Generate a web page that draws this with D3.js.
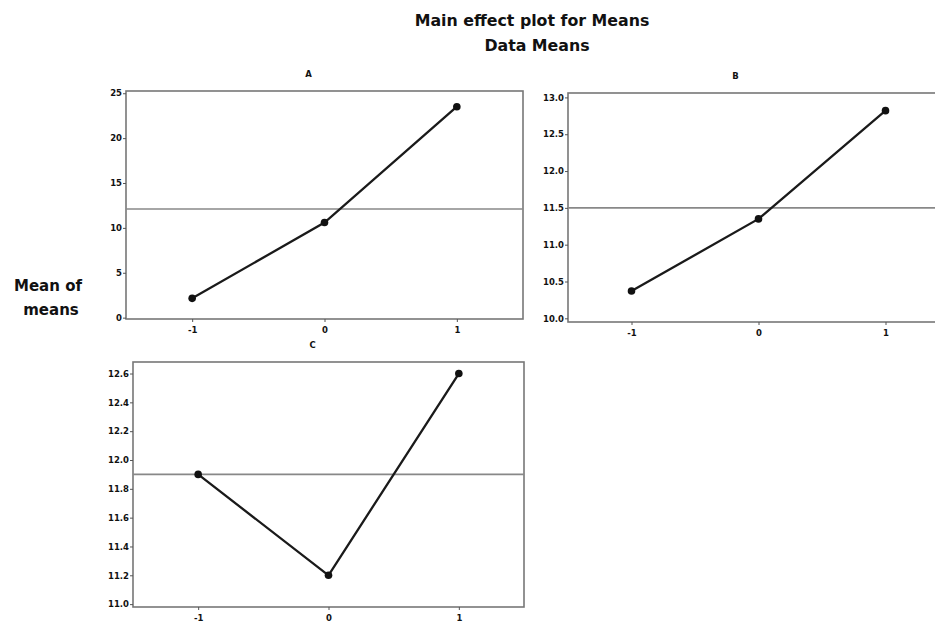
<!DOCTYPE html>
<html>
<head>
<meta charset="utf-8">
<script src="https://cdn.jsdelivr.net/npm/d3@7"></script>
<style>
  body { margin: 0; background: #fff; }
  svg { display: block; }
  text { font-family: "DejaVu Sans", "Open Sans", sans-serif; font-weight: bold; fill: #111; }
  .tick text { font-size: 8.5px; }
  .tick line { stroke: #555; }
</style>
</head>
<body>
<svg id="chart" width="935" height="623"></svg>
<script>
// levels of every factor
const levels = [-1, 0, 1];

// means at each level
const meansA = [2.15, 10.6, 23.5];
const meansB = [10.37, 11.35, 12.82];
const meansC = [11.9, 11.2, 12.6];

// grand mean (horizontal reference line) per panel
const grandA = 12.1;
const grandB = 11.5;
const grandC = 11.9;

// y tick values
const ticksA = [0, 5, 10, 15, 20, 25];
const ticksB = [10.0, 10.5, 11.0, 11.5, 12.0, 12.5, 13.0];
const ticksC = [11.0, 11.2, 11.4, 11.6, 11.8, 12.0, 12.2, 12.4, 12.6];

const hyphen = f => d => f(d).replace("\u2212", "-");

const panels = [
  { name: "A", values: meansA, mean: grandA, ticks: ticksA, fmt: d3.format("d"),
    yDomain: [-0.15, 25.25], box: { left: 126, right: 523, top: 91, bottom: 319 } },
  { name: "B", values: meansB, mean: grandB, ticks: ticksB, fmt: d3.format(".1f"),
    yDomain: [9.95, 13.06], box: { left: 568, right: 949, top: 93, bottom: 322 } },
  { name: "C", values: meansC, mean: grandC, ticks: ticksC, fmt: d3.format(".1f"),
    yDomain: [10.98, 12.68], box: { left: 133, right: 524, top: 362, bottom: 607 } }
];

const svg = d3.select("#chart");

svg.append("text")
  .attr("x", 532).attr("y", 26)
  .attr("text-anchor", "middle")
  .style("font-size", "15.8px")
  .text("Main effect plot for Means");
svg.append("text")
  .attr("x", 537).attr("y", 51)
  .attr("text-anchor", "middle")
  .style("font-size", "15.8px")
  .text("Data Means");

svg.append("text")
  .attr("x", 48).attr("y", 291)
  .attr("text-anchor", "middle")
  .style("font-size", "15px")
  .text("Mean of");
svg.append("text")
  .attr("x", 51).attr("y", 315)
  .attr("text-anchor", "middle")
  .style("font-size", "15px")
  .text("means");

panels.forEach(p => {
  const { left, right, top, bottom } = p.box;
  const x = d3.scaleLinear().domain([-1.5, 1.5]).range([left, right]);
  const y = d3.scaleLinear().domain(p.yDomain).range([bottom, top]);
  const g = svg.append("g");

  // frame
  g.append("rect")
    .attr("x", left).attr("y", top)
    .attr("width", right - left).attr("height", bottom - top)
    .attr("fill", "none")
    .attr("stroke", "#777")
    .attr("stroke-width", 1.6);

  g.append("g")
    .attr("transform", `translate(${left},0)`)
    .call(d3.axisLeft(y).tickValues(p.ticks).tickFormat(p.fmt).tickSize(3).tickPadding(1))
    .call(s => s.select(".domain").remove())
    .call(s => s.selectAll(".tick text").style("font-family", null));

  g.append("g")
    .attr("transform", `translate(0,${bottom})`)
    .call(d3.axisBottom(x).tickValues(levels).tickFormat(hyphen(d3.format("d"))).tickSize(3).tickPadding(5))
    .call(s => s.select(".domain").remove())
    .call(s => s.selectAll(".tick text").style("font-family", null));

  // panel title
  g.append("text")
    .attr("x", (left + Math.min(right, 935)) / 2 - 16)
    .attr("y", top - 14)
    .attr("text-anchor", "middle")
    .style("font-size", "8.5px")
    .text(p.name);

  // grand mean
  g.append("line")
    .attr("x1", left).attr("x2", right)
    .attr("y1", y(p.mean)).attr("y2", y(p.mean))
    .attr("stroke", "#888")
    .attr("stroke-width", 1.6);

  g.append("path")
    .datum(p.values)
    .attr("fill", "none")
    .attr("stroke", "#1a1a1a")
    .attr("stroke-width", 2.3)
    .attr("d", d3.line().x((d, i) => x(levels[i])).y(d => y(d)));

  g.selectAll("circle")
    .data(p.values)
    .join("circle")
    .attr("cx", (d, i) => x(levels[i]))
    .attr("cy", d => y(d))
    .attr("r", 3.8)
    .attr("fill", "#111");
});
</script>
</body>
</html>
